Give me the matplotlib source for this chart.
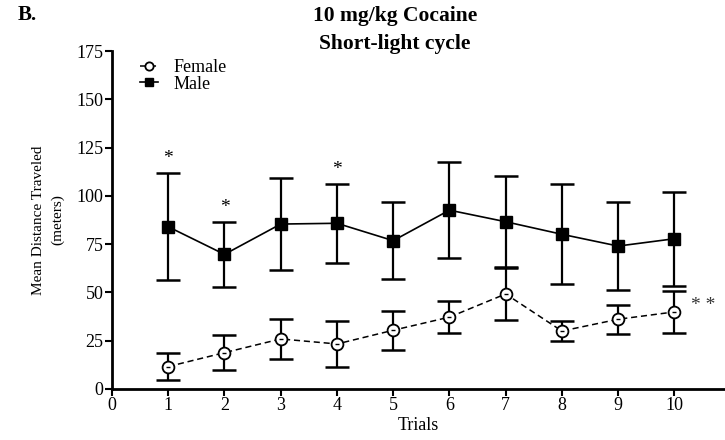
import matplotlib
matplotlib.use('Agg')
import matplotlib.pyplot as plt
import numpy as np

plt.rcParams['font.family'] = ['Liberation Serif', 'DejaVu Serif']

# Distance traveled per trial (mean +/- SEM), 10 mg/kg cocaine, short-light cycle
trials = [1, 2, 3, 4, 5, 6, 7, 8, 9, 10]
female_mean = [11.6, 18.8, 25.9, 23.3, 30.4, 37.2, 49.2, 30.0, 36.1, 39.9]
female_sem = [7.0, 9.0, 10.5, 11.8, 10.2, 8.3, 13.5, 5.0, 7.5, 11.0]
male_mean = [84.0, 69.7, 85.4, 85.8, 76.8, 92.6, 86.6, 80.1, 74.0, 77.8]
male_sem = [27.8, 17.0, 24.0, 20.5, 20.0, 25.0, 23.5, 25.8, 23.0, 24.3]

# trials where males differ from females
sig_trials = [1, 2, 4]

x_ticks = list(range(0, 11))
y_ticks = [0, 25, 50, 75, 100, 125, 150, 175]

fig = plt.figure(figsize=(7.25, 4.4), dpi=100)
ax = fig.add_axes([0.1545, 0.116, 0.8455, 0.768])

# Female: open circles, dashed line
ax.errorbar(trials, female_mean, yerr=female_sem, fmt='none', ecolor='black',
            elinewidth=1.6, capsize=8.5, capthick=1.8, zorder=2)
ax.plot(trials, female_mean, color='black', linestyle=(0, (4, 2.5)), linewidth=1.1,
        marker='o', markersize=8.5, markerfacecolor='white', markeredgecolor='black',
        markeredgewidth=1.3, zorder=3, label='Female')
ax.plot(trials, female_mean, linestyle='none', marker='_', markersize=3.5,
        markeredgewidth=1.0, color='black', zorder=4)

# Male: filled squares, solid line
ax.errorbar(trials, male_mean, yerr=male_sem, fmt='none', ecolor='black',
            elinewidth=1.6, capsize=8.5, capthick=1.8, zorder=2)
ax.plot(trials, male_mean, color='black', linestyle='-', linewidth=1.2,
        marker='s', markersize=9, markerfacecolor='black', markeredgecolor='black',
        zorder=3, label='Male')

# significance markers
for t in sig_trials:
    i = trials.index(t)
    ax.text(t, male_mean[i] + male_sem[i] + 7.5, '*', ha='center', va='center',
            fontsize=14, color='black')
ax.text(trials[-1] + 0.3, female_mean[-1] + 3.5, '* *', ha='left', va='center',
        fontsize=14, color='#333333')

ax.set_xlim(0, 10.9)
ax.set_ylim(0, 175)
ax.set_xticks(x_ticks)
ax.set_yticks(y_ticks)
ax.tick_params(axis='both', direction='out', length=5, width=1.5, labelsize=13,
               pad=1)
for side in ['top', 'right']:
    ax.spines[side].set_visible(False)
for side in ['left', 'bottom']:
    ax.spines[side].set_linewidth(2)

ax.set_xlabel('Trials', fontsize=13, labelpad=2)
ax.set_ylabel('Mean Distance Traveled\n(meters)', fontsize=11, labelpad=9,
              linespacing=1.5)

leg = ax.legend(loc='upper left', bbox_to_anchor=(0.045, 0.975), frameon=False,
                fontsize=13, handlelength=1.0, handletextpad=0.9,
                labelspacing=-0.05, borderaxespad=0, borderpad=0, markerscale=0.7)

fig.text(0.545, 0.964, '10 mg/kg Cocaine', ha='center', va='center',
         fontsize=15.5, fontweight='bold')
fig.text(0.545, 0.900, 'Short-light cycle', ha='center', va='center',
         fontsize=15.5, fontweight='bold')
fig.text(0.025, 0.966, 'B.', ha='left', va='center', fontsize=15, fontweight='bold')

fig.savefig('out.png', dpi=100, facecolor='white')
